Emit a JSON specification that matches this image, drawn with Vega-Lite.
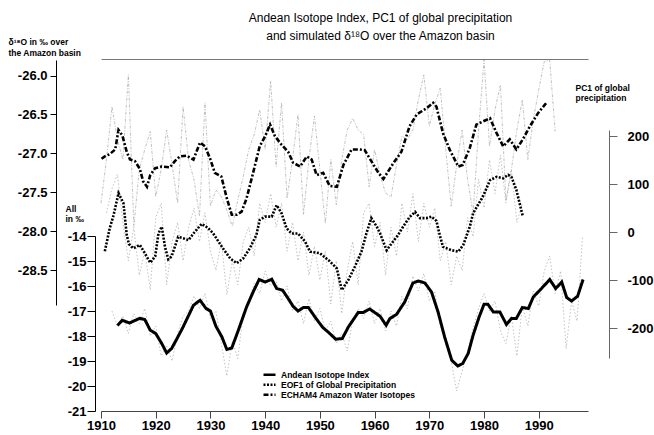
{
  "$schema": "https://vega.github.io/schema/vega-lite/v6.json",
  "width": 487,
  "height": 352,
  "autosize": "none",
  "padding": {"left": 101, "top": 59, "right": 66, "bottom": 24},
  "background": "white",
  "title": {
    "text": ["Andean Isotope Index, PC1 of global precipitation", "and simulated δ¹⁸O over the Amazon basin"],
    "anchor": "middle",
    "frame": "group",
    "dx": 36,
    "offset": -6,
    "font": "Liberation Sans",
    "fontSize": 12,
    "fontWeight": "normal",
    "lineHeight": 18,
    "color": "black"
  },
  "datasets": {
    "echam_raw": [
      {"year":1910,"d18O":-27.64},{"year":1911,"d18O":-27.08},{"year":1912,"d18O":-26.40},{"year":1913,"d18O":-26.82},{"year":1914,"d18O":-27.08},
      {"year":1915,"d18O":-25.99},{"year":1916,"d18O":-27.94},{"year":1917,"d18O":-27.21},{"year":1918,"d18O":-26.95},{"year":1919,"d18O":-26.72},
      {"year":1920,"d18O":-27.56},{"year":1921,"d18O":-27.21},{"year":1922,"d18O":-26.70},{"year":1923,"d18O":-27.15},{"year":1924,"d18O":-27.64},
      {"year":1925,"d18O":-26.40},{"year":1926,"d18O":-27.08},{"year":1927,"d18O":-27.34},{"year":1928,"d18O":-27.81},{"year":1929,"d18O":-26.35},
      {"year":1930,"d18O":-27.68},{"year":1931,"d18O":-27.47},{"year":1932,"d18O":-27.56},{"year":1933,"d18O":-27.73},{"year":1934,"d18O":-27.94},
      {"year":1935,"d18O":-27.60},{"year":1936,"d18O":-27.30},{"year":1937,"d18O":-26.95},{"year":1938,"d18O":-26.76},{"year":1939,"d18O":-26.44},
      {"year":1940,"d18O":-26.95},{"year":1941,"d18O":-26.07},{"year":1942,"d18O":-27.17},{"year":1943,"d18O":-26.35},{"year":1944,"d18O":-27.58},
      {"year":1945,"d18O":-27.08},{"year":1946,"d18O":-26.50},{"year":1947,"d18O":-27.79},{"year":1948,"d18O":-27.08},{"year":1949,"d18O":-26.52},
      {"year":1950,"d18O":-27.21},{"year":1951,"d18O":-27.90},{"year":1952,"d18O":-27.08},{"year":1953,"d18O":-27.66},{"year":1954,"d18O":-27.08},
      {"year":1955,"d18O":-26.70},{"year":1956,"d18O":-26.55},{"year":1957,"d18O":-26.70},{"year":1958,"d18O":-26.76},{"year":1959,"d18O":-27.43},
      {"year":1960,"d18O":-26.95},{"year":1961,"d18O":-27.28},{"year":1962,"d18O":-27.51},{"year":1963,"d18O":-27.56},{"year":1964,"d18O":-27.15},
      {"year":1965,"d18O":-26.78},{"year":1966,"d18O":-26.82},{"year":1967,"d18O":-26.70},{"year":1968,"d18O":-26.31},{"year":1969,"d18O":-25.99},
      {"year":1970,"d18O":-26.65},{"year":1971,"d18O":-26.37},{"year":1972,"d18O":-26.16},{"year":1973,"d18O":-26.95},{"year":1974,"d18O":-27.68},
      {"year":1975,"d18O":-27.15},{"year":1976,"d18O":-26.70},{"year":1977,"d18O":-27.34},{"year":1978,"d18O":-27.77},{"year":1979,"d18O":-26.70},
      {"year":1980,"d18O":-25.80},{"year":1981,"d18O":-26.91},{"year":1982,"d18O":-26.44},{"year":1983,"d18O":-26.12},{"year":1984,"d18O":-27.60},
      {"year":1985,"d18O":-27.21},{"year":1986,"d18O":-26.70},{"year":1987,"d18O":-26.31},{"year":1988,"d18O":-27.08},{"year":1989,"d18O":-26.57},
      {"year":1990,"d18O":-26.18},{"year":1991,"d18O":-25.82},{"year":1992,"d18O":-25.80},{"year":1993,"d18O":-26.72}
    ],
    "echam": [
      {"year":1910.1,"d18O":-27.07,"series":"ECHAM4 Amazon Water Isotopes"},{"year":1910.7,"d18O":-27.04,"series":"ECHAM4 Amazon Water Isotopes"},
      {"year":1911.6,"d18O":-27.01,"series":"ECHAM4 Amazon Water Isotopes"},{"year":1912.6,"d18O":-26.95,"series":"ECHAM4 Amazon Water Isotopes"},
      {"year":1913.2,"d18O":-26.70,"series":"ECHAM4 Amazon Water Isotopes"},{"year":1913.9,"d18O":-26.77,"series":"ECHAM4 Amazon Water Isotopes"},
      {"year":1914.7,"d18O":-26.98,"series":"ECHAM4 Amazon Water Isotopes"},{"year":1915.3,"d18O":-27.08,"series":"ECHAM4 Amazon Water Isotopes"},
      {"year":1916.2,"d18O":-27.10,"series":"ECHAM4 Amazon Water Isotopes"},{"year":1917.1,"d18O":-27.20,"series":"ECHAM4 Amazon Water Isotopes"},
      {"year":1917.7,"d18O":-27.36,"series":"ECHAM4 Amazon Water Isotopes"},{"year":1918.4,"d18O":-27.43,"series":"ECHAM4 Amazon Water Isotopes"},
      {"year":1919.0,"d18O":-27.28,"series":"ECHAM4 Amazon Water Isotopes"},{"year":1919.9,"d18O":-27.19,"series":"ECHAM4 Amazon Water Isotopes"},
      {"year":1921.1,"d18O":-27.17,"series":"ECHAM4 Amazon Water Isotopes"},{"year":1922.6,"d18O":-27.18,"series":"ECHAM4 Amazon Water Isotopes"},
      {"year":1923.5,"d18O":-27.10,"series":"ECHAM4 Amazon Water Isotopes"},{"year":1924.4,"d18O":-27.04,"series":"ECHAM4 Amazon Water Isotopes"},
      {"year":1925.7,"d18O":-27.03,"series":"ECHAM4 Amazon Water Isotopes"},{"year":1926.9,"d18O":-27.08,"series":"ECHAM4 Amazon Water Isotopes"},
      {"year":1928.1,"d18O":-26.86,"series":"ECHAM4 Amazon Water Isotopes"},{"year":1929.0,"d18O":-26.91,"series":"ECHAM4 Amazon Water Isotopes"},
      {"year":1929.9,"d18O":-27.06,"series":"ECHAM4 Amazon Water Isotopes"},{"year":1930.8,"d18O":-27.25,"series":"ECHAM4 Amazon Water Isotopes"},
      {"year":1932.0,"d18O":-27.30,"series":"ECHAM4 Amazon Water Isotopes"},{"year":1933.0,"d18O":-27.58,"series":"ECHAM4 Amazon Water Isotopes"},
      {"year":1933.9,"d18O":-27.79,"series":"ECHAM4 Amazon Water Isotopes"},{"year":1934.8,"d18O":-27.79,"series":"ECHAM4 Amazon Water Isotopes"},
      {"year":1935.7,"d18O":-27.75,"series":"ECHAM4 Amazon Water Isotopes"},{"year":1936.6,"d18O":-27.58,"series":"ECHAM4 Amazon Water Isotopes"},
      {"year":1937.8,"d18O":-27.25,"series":"ECHAM4 Amazon Water Isotopes"},{"year":1939.0,"d18O":-26.91,"series":"ECHAM4 Amazon Water Isotopes"},
      {"year":1940.0,"d18O":-26.78,"series":"ECHAM4 Amazon Water Isotopes"},{"year":1940.9,"d18O":-26.63,"series":"ECHAM4 Amazon Water Isotopes"},
      {"year":1941.8,"d18O":-26.78,"series":"ECHAM4 Amazon Water Isotopes"},{"year":1943.0,"d18O":-26.89,"series":"ECHAM4 Amazon Water Isotopes"},
      {"year":1944.2,"d18O":-26.98,"series":"ECHAM4 Amazon Water Isotopes"},{"year":1945.1,"d18O":-27.12,"series":"ECHAM4 Amazon Water Isotopes"},
      {"year":1946.4,"d18O":-27.17,"series":"ECHAM4 Amazon Water Isotopes"},{"year":1947.6,"d18O":-27.04,"series":"ECHAM4 Amazon Water Isotopes"},
      {"year":1948.5,"d18O":-27.08,"series":"ECHAM4 Amazon Water Isotopes"},{"year":1949.4,"d18O":-27.28,"series":"ECHAM4 Amazon Water Isotopes"},
      {"year":1950.6,"d18O":-27.25,"series":"ECHAM4 Amazon Water Isotopes"},{"year":1951.8,"d18O":-27.42,"series":"ECHAM4 Amazon Water Isotopes"},
      {"year":1953.1,"d18O":-27.43,"series":"ECHAM4 Amazon Water Isotopes"},{"year":1954.3,"d18O":-27.15,"series":"ECHAM4 Amazon Water Isotopes"},
      {"year":1955.8,"d18O":-26.95,"series":"ECHAM4 Amazon Water Isotopes"},{"year":1957.3,"d18O":-26.95,"series":"ECHAM4 Amazon Water Isotopes"},
      {"year":1958.2,"d18O":-26.96,"series":"ECHAM4 Amazon Water Isotopes"},{"year":1959.4,"d18O":-27.10,"series":"ECHAM4 Amazon Water Isotopes"},
      {"year":1960.7,"d18O":-27.25,"series":"ECHAM4 Amazon Water Isotopes"},{"year":1961.6,"d18O":-27.33,"series":"ECHAM4 Amazon Water Isotopes"},
      {"year":1963.4,"d18O":-27.13,"series":"ECHAM4 Amazon Water Isotopes"},{"year":1964.9,"d18O":-26.98,"series":"ECHAM4 Amazon Water Isotopes"},
      {"year":1966.4,"d18O":-26.65,"series":"ECHAM4 Amazon Water Isotopes"},{"year":1967.7,"d18O":-26.50,"series":"ECHAM4 Amazon Water Isotopes"},
      {"year":1969.5,"d18O":-26.42,"series":"ECHAM4 Amazon Water Isotopes"},{"year":1970.7,"d18O":-26.35,"series":"ECHAM4 Amazon Water Isotopes"},
      {"year":1971.3,"d18O":-26.40,"series":"ECHAM4 Amazon Water Isotopes"},{"year":1972.5,"d18O":-26.74,"series":"ECHAM4 Amazon Water Isotopes"},
      {"year":1973.7,"d18O":-26.95,"series":"ECHAM4 Amazon Water Isotopes"},{"year":1975.3,"d18O":-27.17,"series":"ECHAM4 Amazon Water Isotopes"},
      {"year":1976.1,"d18O":-27.15,"series":"ECHAM4 Amazon Water Isotopes"},{"year":1977.4,"d18O":-26.93,"series":"ECHAM4 Amazon Water Isotopes"},
      {"year":1978.6,"d18O":-26.63,"series":"ECHAM4 Amazon Water Isotopes"},{"year":1979.8,"d18O":-26.59,"series":"ECHAM4 Amazon Water Isotopes"},
      {"year":1981.1,"d18O":-26.55,"series":"ECHAM4 Amazon Water Isotopes"},{"year":1982.3,"d18O":-26.74,"series":"ECHAM4 Amazon Water Isotopes"},
      {"year":1983.5,"d18O":-26.91,"series":"ECHAM4 Amazon Water Isotopes"},{"year":1984.7,"d18O":-26.82,"series":"ECHAM4 Amazon Water Isotopes"},
      {"year":1985.9,"d18O":-26.95,"series":"ECHAM4 Amazon Water Isotopes"},{"year":1987.1,"d18O":-26.82,"series":"ECHAM4 Amazon Water Isotopes"},
      {"year":1988.4,"d18O":-26.65,"series":"ECHAM4 Amazon Water Isotopes"},{"year":1989.9,"d18O":-26.48,"series":"ECHAM4 Amazon Water Isotopes"},
      {"year":1991.4,"d18O":-26.35,"series":"ECHAM4 Amazon Water Isotopes"}
    ],
    "andean_raw": [
      {"year":1912,"v":-17.0},{"year":1913,"v":-17.6},{"year":1914,"v":-17.2},{"year":1915,"v":-17.9},{"year":1916,"v":-17.1},{"year":1917,"v":-17.5},
      {"year":1918,"v":-16.9},{"year":1919,"v":-18.0},{"year":1920,"v":-17.6},{"year":1921,"v":-18.8},{"year":1922,"v":-18.4},{"year":1923,"v":-19.0},
      {"year":1924,"v":-17.9},{"year":1925,"v":-17.2},{"year":1926,"v":-17.0},{"year":1927,"v":-16.4},{"year":1928,"v":-16.9},{"year":1929,"v":-16.3},
      {"year":1930,"v":-17.3},{"year":1931,"v":-17.0},{"year":1932,"v":-18.3},{"year":1933,"v":-19.6},{"year":1934,"v":-18.2},{"year":1935,"v":-18.9},
      {"year":1936,"v":-17.1},{"year":1937,"v":-16.6},{"year":1938,"v":-15.9},{"year":1939,"v":-16.3},{"year":1940,"v":-15.4},{"year":1941,"v":-16.0},
      {"year":1942,"v":-15.8},{"year":1943,"v":-16.6},{"year":1944,"v":-16.0},{"year":1945,"v":-17.0},{"year":1946,"v":-16.6},{"year":1947,"v":-17.5},
      {"year":1948,"v":-16.5},{"year":1949,"v":-17.4},{"year":1950,"v":-16.9},{"year":1951,"v":-17.8},{"year":1952,"v":-17.4},{"year":1953,"v":-18.3},
      {"year":1954,"v":-17.9},{"year":1955,"v":-18.6},{"year":1956,"v":-17.4},{"year":1957,"v":-16.9},{"year":1958,"v":-17.3},{"year":1959,"v":-16.6},
      {"year":1960,"v":-17.5},{"year":1961,"v":-16.9},{"year":1962,"v":-17.8},{"year":1963,"v":-17.0},{"year":1964,"v":-17.6},{"year":1965,"v":-16.4},
      {"year":1966,"v":-16.9},{"year":1967,"v":-15.6},{"year":1968,"v":-16.2},{"year":1969,"v":-15.5},{"year":1970,"v":-16.6},{"year":1971,"v":-16.2},
      {"year":1972,"v":-17.6},{"year":1973,"v":-18.2},{"year":1974,"v":-19.0},{"year":1975,"v":-20.2},{"year":1976,"v":-19.4},{"year":1977,"v":-18.6},
      {"year":1978,"v":-17.7},{"year":1979,"v":-16.9},{"year":1980,"v":-16.3},{"year":1981,"v":-17.0},{"year":1982,"v":-16.6},{"year":1983,"v":-17.8},
      {"year":1984,"v":-18.3},{"year":1985,"v":-17.2},{"year":1986,"v":-18.8},{"year":1987,"v":-16.8},{"year":1988,"v":-17.6},{"year":1989,"v":-16.2},
      {"year":1990,"v":-16.8},{"year":1991,"v":-15.4},{"year":1992,"v":-14.8},{"year":1993,"v":-16.3},{"year":1994,"v":-15.4},{"year":1995,"v":-18.5},
      {"year":1996,"v":-16.6},{"year":1997,"v":-17.4},{"year":1998,"v":-14.0}
    ],
    "andean": [
      {"year":1913.0,"v":-17.58,"series":"Andean Isotope Index"},{"year":1913.9,"v":-17.37,"series":"Andean Isotope Index"},{"year":1915.2,"v":-17.48,"series":"Andean Isotope Index"},
      {"year":1915.9,"v":-17.41,"series":"Andean Isotope Index"},{"year":1917.1,"v":-17.29,"series":"Andean Isotope Index"},{"year":1918.0,"v":-17.34,"series":"Andean Isotope Index"},
      {"year":1919.0,"v":-17.77,"series":"Andean Isotope Index"},{"year":1920.0,"v":-17.90,"series":"Andean Isotope Index"},{"year":1921.1,"v":-18.30,"series":"Andean Isotope Index"},
      {"year":1922.0,"v":-18.68,"series":"Andean Isotope Index"},{"year":1922.9,"v":-18.50,"series":"Andean Isotope Index"},{"year":1923.9,"v":-18.10,"series":"Andean Isotope Index"},
      {"year":1925.0,"v":-17.64,"series":"Andean Isotope Index"},{"year":1926.9,"v":-16.77,"series":"Andean Isotope Index"},{"year":1928.1,"v":-16.57,"series":"Andean Isotope Index"},
      {"year":1929.2,"v":-16.90,"series":"Andean Isotope Index"},{"year":1930.0,"v":-17.00,"series":"Andean Isotope Index"},{"year":1931.0,"v":-17.61,"series":"Andean Isotope Index"},
      {"year":1932.1,"v":-18.04,"series":"Andean Isotope Index"},{"year":1933.0,"v":-18.54,"series":"Andean Isotope Index"},{"year":1933.9,"v":-18.48,"series":"Andean Isotope Index"},
      {"year":1935.1,"v":-17.77,"series":"Andean Isotope Index"},{"year":1936.6,"v":-16.84,"series":"Andean Isotope Index"},{"year":1937.8,"v":-16.24,"series":"Andean Isotope Index"},
      {"year":1938.9,"v":-15.74,"series":"Andean Isotope Index"},{"year":1940.0,"v":-15.84,"series":"Andean Isotope Index"},{"year":1941.2,"v":-15.73,"series":"Andean Isotope Index"},
      {"year":1942.1,"v":-16.10,"series":"Andean Isotope Index"},{"year":1943.2,"v":-16.17,"series":"Andean Isotope Index"},{"year":1944.2,"v":-16.50,"series":"Andean Isotope Index"},
      {"year":1945.1,"v":-16.81,"series":"Andean Isotope Index"},{"year":1946.0,"v":-17.00,"series":"Andean Isotope Index"},{"year":1947.0,"v":-16.86,"series":"Andean Isotope Index"},
      {"year":1947.9,"v":-16.86,"series":"Andean Isotope Index"},{"year":1949.3,"v":-17.30,"series":"Andean Isotope Index"},{"year":1950.5,"v":-17.65,"series":"Andean Isotope Index"},
      {"year":1951.8,"v":-17.90,"series":"Andean Isotope Index"},{"year":1952.9,"v":-18.13,"series":"Andean Isotope Index"},{"year":1954.1,"v":-18.10,"series":"Andean Isotope Index"},
      {"year":1955.2,"v":-17.64,"series":"Andean Isotope Index"},{"year":1957.0,"v":-17.06,"series":"Andean Isotope Index"},{"year":1957.9,"v":-17.06,"series":"Andean Isotope Index"},
      {"year":1959.1,"v":-16.92,"series":"Andean Isotope Index"},{"year":1961.0,"v":-17.21,"series":"Andean Isotope Index"},{"year":1962.1,"v":-17.57,"series":"Andean Isotope Index"},
      {"year":1962.8,"v":-17.30,"series":"Andean Isotope Index"},{"year":1964.0,"v":-17.14,"series":"Andean Isotope Index"},{"year":1965.5,"v":-16.64,"series":"Andean Isotope Index"},
      {"year":1967.0,"v":-15.88,"series":"Andean Isotope Index"},{"year":1968.0,"v":-15.80,"series":"Andean Isotope Index"},{"year":1969.2,"v":-15.88,"series":"Andean Isotope Index"},
      {"year":1970.4,"v":-16.24,"series":"Andean Isotope Index"},{"year":1971.6,"v":-17.04,"series":"Andean Isotope Index"},{"year":1972.8,"v":-18.04,"series":"Andean Isotope Index"},
      {"year":1974.1,"v":-18.97,"series":"Andean Isotope Index"},{"year":1975.2,"v":-19.20,"series":"Andean Isotope Index"},{"year":1976.1,"v":-19.10,"series":"Andean Isotope Index"},
      {"year":1977.1,"v":-18.70,"series":"Andean Isotope Index"},{"year":1978.0,"v":-17.97,"series":"Andean Isotope Index"},{"year":1979.1,"v":-17.24,"series":"Andean Isotope Index"},
      {"year":1980.0,"v":-16.73,"series":"Andean Isotope Index"},{"year":1980.7,"v":-16.73,"series":"Andean Isotope Index"},{"year":1981.7,"v":-17.04,"series":"Andean Isotope Index"},
      {"year":1982.9,"v":-17.04,"series":"Andean Isotope Index"},{"year":1984.1,"v":-17.54,"series":"Andean Isotope Index"},{"year":1985.0,"v":-17.30,"series":"Andean Isotope Index"},
      {"year":1985.9,"v":-17.30,"series":"Andean Isotope Index"},{"year":1987.0,"v":-16.86,"series":"Andean Isotope Index"},{"year":1988.1,"v":-16.90,"series":"Andean Isotope Index"},
      {"year":1989.0,"v":-16.44,"series":"Andean Isotope Index"},{"year":1990.5,"v":-16.10,"series":"Andean Isotope Index"},{"year":1992.0,"v":-15.74,"series":"Andean Isotope Index"},
      {"year":1993.1,"v":-16.10,"series":"Andean Isotope Index"},{"year":1994.2,"v":-15.84,"series":"Andean Isotope Index"},{"year":1995.1,"v":-16.46,"series":"Andean Isotope Index"},
      {"year":1996.0,"v":-16.60,"series":"Andean Isotope Index"},{"year":1997.1,"v":-16.41,"series":"Andean Isotope Index"},{"year":1998.1,"v":-15.74,"series":"Andean Isotope Index"}
    ],
    "pc1_raw": [
      {"year":1911,"pc":40},{"year":1912,"pc":90},{"year":1913,"pc":120},{"year":1914,"pc":20},{"year":1915,"pc":-60},{"year":1916,"pc":10},
      {"year":1917,"pc":-90},{"year":1918,"pc":-40},{"year":1919,"pc":-120},{"year":1920,"pc":30},{"year":1921,"pc":60},{"year":1922,"pc":-110},
      {"year":1923,"pc":-20},{"year":1924,"pc":20},{"year":1925,"pc":-60},{"year":1926,"pc":10},{"year":1927,"pc":50},{"year":1928,"pc":-20},
      {"year":1929,"pc":40},{"year":1930,"pc":-40},{"year":1931,"pc":-80},{"year":1932,"pc":-20},{"year":1933,"pc":-130},{"year":1934,"pc":-60},
      {"year":1935,"pc":-110},{"year":1936,"pc":-20},{"year":1937,"pc":10},{"year":1938,"pc":-50},{"year":1939,"pc":60},{"year":1940,"pc":20},
      {"year":1941,"pc":80},{"year":1942,"pc":10},{"year":1943,"pc":60},{"year":1944,"pc":-40},{"year":1945,"pc":20},{"year":1946,"pc":-60},
      {"year":1947,"pc":0},{"year":1948,"pc":-90},{"year":1949,"pc":-30},{"year":1950,"pc":-100},{"year":1951,"pc":-40},{"year":1952,"pc":-150},
      {"year":1953,"pc":-60},{"year":1954,"pc":-170},{"year":1955,"pc":-80},{"year":1956,"pc":-20},{"year":1957,"pc":-110},{"year":1958,"pc":40},
      {"year":1959,"pc":60},{"year":1960,"pc":-30},{"year":1961,"pc":20},{"year":1962,"pc":-90},{"year":1963,"pc":10},{"year":1964,"pc":-50},
      {"year":1965,"pc":60},{"year":1966,"pc":0},{"year":1967,"pc":80},{"year":1968,"pc":-20},{"year":1969,"pc":60},{"year":1970,"pc":10},
      {"year":1971,"pc":50},{"year":1972,"pc":-60},{"year":1973,"pc":-20},{"year":1974,"pc":-110},{"year":1975,"pc":-50},{"year":1976,"pc":-80},
      {"year":1977,"pc":30},{"year":1978,"pc":-10},{"year":1979,"pc":110},{"year":1980,"pc":50},{"year":1981,"pc":150},{"year":1982,"pc":80},
      {"year":1983,"pc":160},{"year":1984,"pc":60},{"year":1985,"pc":130},{"year":1986,"pc":20},{"year":1987,"pc":60}
    ],
    "eof": [
      {"year":1910.7,"pc":-40,"series":"EOF1 of Global Precipitation"},{"year":1911.6,"pc":8,"series":"EOF1 of Global Precipitation"},{"year":1912.3,"pc":35,"series":"EOF1 of Global Precipitation"},
      {"year":1913.2,"pc":81,"series":"EOF1 of Global Precipitation"},{"year":1914.1,"pc":60,"series":"EOF1 of Global Precipitation"},{"year":1914.7,"pc":-6,"series":"EOF1 of Global Precipitation"},
      {"year":1915.1,"pc":-25,"series":"EOF1 of Global Precipitation"},{"year":1915.9,"pc":-34,"series":"EOF1 of Global Precipitation"},{"year":1917.1,"pc":-27,"series":"EOF1 of Global Precipitation"},
      {"year":1918.0,"pc":-44,"series":"EOF1 of Global Precipitation"},{"year":1919.0,"pc":-64,"series":"EOF1 of Global Precipitation"},{"year":1919.9,"pc":-51,"series":"EOF1 of Global Precipitation"},
      {"year":1920.5,"pc":-3,"series":"EOF1 of Global Precipitation"},{"year":1921.1,"pc":11,"series":"EOF1 of Global Precipitation"},{"year":1921.7,"pc":-31,"series":"EOF1 of Global Precipitation"},
      {"year":1922.3,"pc":-57,"series":"EOF1 of Global Precipitation"},{"year":1922.9,"pc":-51,"series":"EOF1 of Global Precipitation"},{"year":1924.1,"pc":-10,"series":"EOF1 of Global Precipitation"},
      {"year":1925.0,"pc":-13,"series":"EOF1 of Global Precipitation"},{"year":1926.0,"pc":-17,"series":"EOF1 of Global Precipitation"},{"year":1926.9,"pc":-3,"series":"EOF1 of Global Precipitation"},
      {"year":1928.4,"pc":17,"series":"EOF1 of Global Precipitation"},{"year":1929.6,"pc":8,"series":"EOF1 of Global Precipitation"},{"year":1930.5,"pc":-3,"series":"EOF1 of Global Precipitation"},
      {"year":1932.1,"pc":-31,"series":"EOF1 of Global Precipitation"},{"year":1933.6,"pc":-55,"series":"EOF1 of Global Precipitation"},{"year":1934.8,"pc":-65,"series":"EOF1 of Global Precipitation"},
      {"year":1936.0,"pc":-55,"series":"EOF1 of Global Precipitation"},{"year":1937.2,"pc":-34,"series":"EOF1 of Global Precipitation"},{"year":1938.4,"pc":-6,"series":"EOF1 of Global Precipitation"},
      {"year":1939.0,"pc":25,"series":"EOF1 of Global Precipitation"},{"year":1940.0,"pc":32,"series":"EOF1 of Global Precipitation"},{"year":1941.2,"pc":32,"series":"EOF1 of Global Precipitation"},
      {"year":1942.1,"pc":56,"series":"EOF1 of Global Precipitation"},{"year":1943.0,"pc":39,"series":"EOF1 of Global Precipitation"},{"year":1943.9,"pc":8,"series":"EOF1 of Global Precipitation"},
      {"year":1944.8,"pc":-3,"series":"EOF1 of Global Precipitation"},{"year":1946.0,"pc":-3,"series":"EOF1 of Global Precipitation"},{"year":1947.3,"pc":-20,"series":"EOF1 of Global Precipitation"},
      {"year":1948.2,"pc":-41,"series":"EOF1 of Global Precipitation"},{"year":1950.0,"pc":-44,"series":"EOF1 of Global Precipitation"},{"year":1951.8,"pc":-61,"series":"EOF1 of Global Precipitation"},
      {"year":1953.1,"pc":-76,"series":"EOF1 of Global Precipitation"},{"year":1954.0,"pc":-121,"series":"EOF1 of Global Precipitation"},{"year":1955.2,"pc":-100,"series":"EOF1 of Global Precipitation"},
      {"year":1956.4,"pc":-72,"series":"EOF1 of Global Precipitation"},{"year":1957.6,"pc":-41,"series":"EOF1 of Global Precipitation"},{"year":1958.5,"pc":-3,"series":"EOF1 of Global Precipitation"},
      {"year":1959.4,"pc":29,"series":"EOF1 of Global Precipitation"},{"year":1960.4,"pc":11,"series":"EOF1 of Global Precipitation"},{"year":1961.0,"pc":-3,"series":"EOF1 of Global Precipitation"},
      {"year":1962.2,"pc":-38,"series":"EOF1 of Global Precipitation"},{"year":1963.1,"pc":-24,"series":"EOF1 of Global Precipitation"},{"year":1964.3,"pc":-6,"series":"EOF1 of Global Precipitation"},
      {"year":1965.2,"pc":11,"series":"EOF1 of Global Precipitation"},{"year":1966.4,"pc":31,"series":"EOF1 of Global Precipitation"},{"year":1967.4,"pc":42,"series":"EOF1 of Global Precipitation"},
      {"year":1968.3,"pc":29,"series":"EOF1 of Global Precipitation"},{"year":1969.5,"pc":29,"series":"EOF1 of Global Precipitation"},{"year":1970.4,"pc":32,"series":"EOF1 of Global Precipitation"},
      {"year":1971.3,"pc":23,"series":"EOF1 of Global Precipitation"},{"year":1971.9,"pc":-6,"series":"EOF1 of Global Precipitation"},{"year":1972.5,"pc":-31,"series":"EOF1 of Global Precipitation"},
      {"year":1974.1,"pc":-38,"series":"EOF1 of Global Precipitation"},{"year":1975.3,"pc":-41,"series":"EOF1 of Global Precipitation"},{"year":1976.2,"pc":-27,"series":"EOF1 of Global Precipitation"},
      {"year":1977.4,"pc":11,"series":"EOF1 of Global Precipitation"},{"year":1978.0,"pc":39,"series":"EOF1 of Global Precipitation"},{"year":1979.8,"pc":74,"series":"EOF1 of Global Precipitation"},
      {"year":1981.1,"pc":108,"series":"EOF1 of Global Precipitation"},{"year":1982.3,"pc":115,"series":"EOF1 of Global Precipitation"},{"year":1983.5,"pc":112,"series":"EOF1 of Global Precipitation"},
      {"year":1984.4,"pc":119,"series":"EOF1 of Global Precipitation"},{"year":1985.0,"pc":115,"series":"EOF1 of Global Precipitation"},{"year":1985.9,"pc":88,"series":"EOF1 of Global Precipitation"},
      {"year":1987.1,"pc":32,"series":"EOF1 of Global Precipitation"}
    ]
  },
  "layer": [
    {
      "data": {"name": "echam_raw"},
      "mark": {"type": "line", "color": "#a8a8a8", "strokeWidth": 0.7, "strokeDash": [3, 1.5, 1, 1.5]},
      "encoding": {
        "x": {"field": "year", "type": "quantitative", "scale": {"domain": [1910, 1999], "nice": false, "zero": false},
          "axis": {"orient": "bottom", "values": [1910, 1920, 1930, 1940, 1950, 1960, 1970, 1980, 1990], "format": "d", "tickSize": 7, "labelPadding": 1, "labelFlush": false, "domainColor": "#444", "tickColor": "#444", "title": null}},
        "y": {"field": "d18O", "type": "quantitative", "scale": {"domain": [-28.95, -25.8], "range": [246, 1], "nice": false, "zero": false},
          "axis": {"orient": "left", "offset": 45, "values": [-28.5, -28, -27.5, -27, -26.5, -26], "format": ".1f", "labelExpr": "replace(datum.label, '\u2212', '-')", "tickSize": 6, "labelPadding": 3,
            "title": ["δ¹⁸O in ‰ over", "the Amazon basin"], "titleAngle": 0, "titleAlign": "left", "titleBaseline": "top", "titleX": -48, "titleY": -22, "titleLineHeight": 11}}
      }
    },
    {
      "data": {"name": "andean_raw"},
      "mark": {"type": "line", "color": "#a8a8a8", "strokeWidth": 0.7, "strokeDash": [1.5, 2]},
      "encoding": {
        "x": {"field": "year", "type": "quantitative", "scale": {"domain": [1910, 1999], "nice": false, "zero": false}, "axis": null},
        "y": {"field": "v", "type": "quantitative", "scale": {"domain": [-21, -14], "range": [352, 177], "nice": false, "zero": false},
          "axis": {"orient": "left", "offset": 6, "values": [-21, -20, -19, -18, -17, -16, -15, -14], "labelExpr": "replace(datum.label, '\u2212', '-')", "tickSize": 8, "labelPadding": 1,
            "title": ["All", "in ‰"], "titleAngle": 0, "titleAlign": "left", "titleBaseline": "top", "titleX": -30, "titleY": 145, "titleLineHeight": 10}}
      }
    },
    {
      "data": {"name": "pc1_raw"},
      "mark": {"type": "line", "color": "#a8a8a8", "strokeWidth": 0.7, "strokeDash": [1.5, 2]},
      "encoding": {
        "x": {"field": "year", "type": "quantitative", "scale": {"domain": [1910, 1999], "nice": false, "zero": false}, "axis": null},
        "y": {"field": "pc", "type": "quantitative", "scale": {"domain": [-262.5, 212.5], "range": [299, 71], "nice": false, "zero": false},
          "axis": {"orient": "right", "offset": 21, "values": [-200, -100, 0, 100, 200], "labelExpr": "replace(datum.label, '\u2212', '-')", "tickSize": 8, "labelPadding": 10, "domainColor": "#666", "tickColor": "#666",
            "title": ["PC1 of global", "precipitation"], "titleAngle": 0, "titleAlign": "left", "titleBaseline": "top", "titleX": -34, "titleY": 24, "titleLineHeight": 10}}
      }
    },
    {
      "data": {"name": "echam"},
      "mark": {"type": "line", "color": "black", "strokeWidth": 2.6},
      "encoding": {
        "x": {"field": "year", "type": "quantitative", "scale": {"domain": [1910, 1999], "nice": false, "zero": false},
          "axis": {"orient": "top", "ticks": false, "labels": false, "domain": true, "domainColor": "#777", "title": null}},
        "y": {"field": "d18O", "type": "quantitative", "scale": {"domain": [-28.95, -25.8], "range": [246, 1], "nice": false, "zero": false}, "axis": null},
        "strokeDash": {"field": "series", "type": "nominal",
          "scale": {"domain": ["Andean Isotope Index", "EOF1 of Global Precipitation", "ECHAM4 Amazon Water Isotopes"], "range": [[1, 0], [2, 1.5], [5, 2, 2, 2]]},
          "legend": {"orient": "none", "legendX": 161, "legendY": 311, "title": null, "symbolType": "stroke", "symbolSize": 144, "symbolStrokeWidth": 2.5, "symbolStrokeColor": "black",
            "labelFont": "Liberation Sans", "labelFontWeight": "bold", "labelFontSize": 8.5, "labelColor": "black", "labelOffset": 4, "rowPadding": 0, "clipHeight": 9.5, "labelLimit": 300}}
      }
    },
    {
      "data": {"name": "eof"},
      "mark": {"type": "line", "color": "black", "strokeWidth": 2.6},
      "encoding": {
        "x": {"field": "year", "type": "quantitative", "scale": {"domain": [1910, 1999], "nice": false, "zero": false}, "axis": null},
        "y": {"field": "pc", "type": "quantitative", "scale": {"domain": [-262.5, 212.5], "range": [299, 71], "nice": false, "zero": false}, "axis": null},
        "strokeDash": {"field": "series", "type": "nominal"}
      }
    },
    {
      "data": {"name": "andean"},
      "mark": {"type": "line", "color": "black", "strokeWidth": 3},
      "encoding": {
        "x": {"field": "year", "type": "quantitative", "scale": {"domain": [1910, 1999], "nice": false, "zero": false}, "axis": null},
        "y": {"field": "v", "type": "quantitative", "scale": {"domain": [-21, -14], "range": [352, 177], "nice": false, "zero": false}, "axis": null},
        "strokeDash": {"field": "series", "type": "nominal"}
      }
    }
  ],
  "resolve": {"scale": {"y": "independent"}, "axis": {"y": "independent", "x": "independent"}},
  "config": {
    "view": {"stroke": null},
    "axis": {"grid": false, "labelFont": "Liberation Sans", "labelFontWeight": "bold", "labelFontSize": 13, "labelColor": "black",
      "domainColor": "black", "tickColor": "black", "titleFont": "Liberation Sans", "titleFontWeight": "bold", "titleFontSize": 8.5, "titleColor": "black"}
  }
}
